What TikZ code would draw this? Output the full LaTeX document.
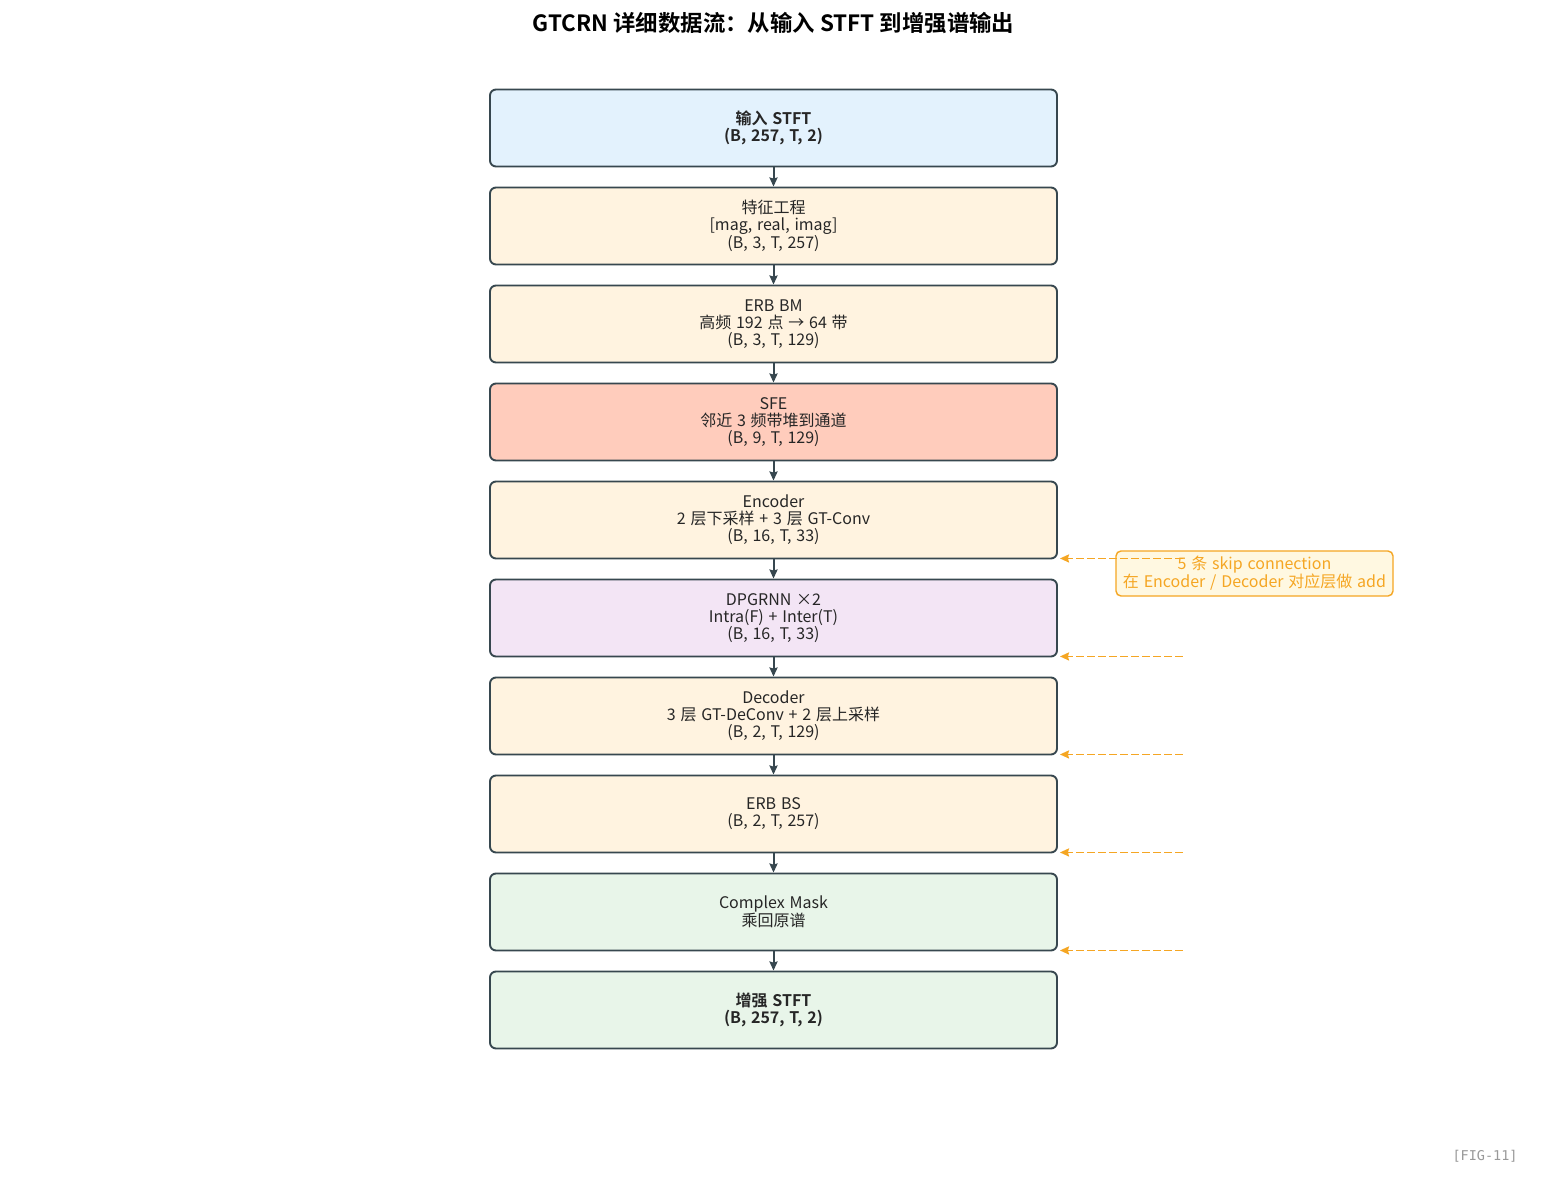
\documentclass[tikz,border=0pt]{standalone}
\usepackage{fontspec}
\setmainfont{Noto Sans CJK SC}[BoldFont={Noto Sans CJK SC Bold}]
\newfontfamily\figmono{DejaVu Sans Mono}
\usetikzlibrary{arrows.meta,calc}
\definecolor{edge}{HTML}{37474F}
\definecolor{cin}{HTML}{E3F2FD}
\definecolor{cproc}{HTML}{FFF3E0}
\definecolor{csfe}{HTML}{FFCCBC}
\definecolor{crnn}{HTML}{F3E5F5}
\definecolor{cout}{HTML}{E8F5E9}
\definecolor{skipc}{HTML}{F5A623}
\definecolor{skipfill}{HTML}{FFF8E1}
\newcommand{\boxfont}{\fontsize{16}{17}\selectfont\spaceskip=0.3em plus 0.05em\relax}
\tikzset{
  blk/.style={draw=edge, line width=1.9pt, rounded corners=6pt, minimum width=567pt, minimum height=77pt, inner sep=0pt, align=center, text=black!85, font=\boxfont},
  flow/.style={draw=edge, line width=2pt, -{Stealth[length=9pt,width=8pt,inset=1pt]}},
  skipar/.style={draw=skipc, line width=1.8pt, dash pattern=on 7.5pt off 3.5pt, -{Stealth[length=9pt,width=8pt,inset=1pt]}},
  skiplbl/.style={draw=skipc, fill=skipfill, line width=1.4pt, rounded corners=5pt, minimum width=277pt, minimum height=45pt, inner sep=0pt, align=center, text=skipc, font=\boxfont}
}
\begin{document}
\begin{tikzpicture}[x=1pt,y=-1pt]
\useasboundingbox[fill=white] (0,0) rectangle (1547,1188);
\node[font=\bfseries\fontsize{22.4}{26}\selectfont] (title) at (773.5,23) {GTCRN 详细数据流：从输入 STFT 到增强谱输出};

\node[blk, fill=cin] (b1) at (773.5,128) {\textbf{输入 STFT}\\\textbf{(B, 257, T, 2)}};
\node[blk, fill=cproc] (b2) at (773.5,226) {特征工程\\{}[mag, real, imag]\\(B, 3, T, 257)};
\node[blk, fill=cproc] (b3) at (773.5,324) {ERB BM\\高频 192 点 → 64 带\\(B, 3, T, 129)};
\node[blk, fill=csfe] (b4) at (773.5,422) {SFE\\邻近 3 频带堆到通道\\(B, 9, T, 129)};
\node[blk, fill=cproc] (b5) at (773.5,520) {Encoder\\2 层下采样 + 3 层 GT-Conv\\(B, 16, T, 33)};
\node[blk, fill=crnn] (b6) at (773.5,618) {DPGRNN ×2\\Intra(F) + Inter(T)\\(B, 16, T, 33)};
\node[blk, fill=cproc] (b7) at (773.5,716) {Decoder\\3 层 GT-DeConv + 2 层上采样\\(B, 2, T, 129)};
\node[blk, fill=cproc] (b8) at (773.5,814) {ERB BS\\(B, 2, T, 257)};
\node[blk, fill=cout] (b9) at (773.5,912) {Complex Mask\\乘回原谱};
\node[blk, fill=cout] (b10) at (773.5,1010) {\textbf{增强 STFT}\\\textbf{(B, 257, T, 2)}};

\foreach \a/\b in {b1/b2,b2/b3,b3/b4,b4/b5,b5/b6,b6/b7,b7/b8,b8/b9,b9/b10}
  \draw[flow] (\a.south) -- (\b.north);

\node[skiplbl] (skip) at (1254.5,573.5) {5 条 skip connection\\在 Encoder / Decoder 对应层做 add};

\foreach \n in {b5,b6,b7,b8,b9}
  \draw[skipar] ([xshift=125pt,yshift=1pt]\n.south east) -- ([xshift=2pt,yshift=1pt]\n.south east);

\node[font=\figmono\fontsize{13.5}{15}\selectfont, text=black!40] (fig) at (1485,1156) {[FIG-11]};
\end{tikzpicture}
\end{document}
